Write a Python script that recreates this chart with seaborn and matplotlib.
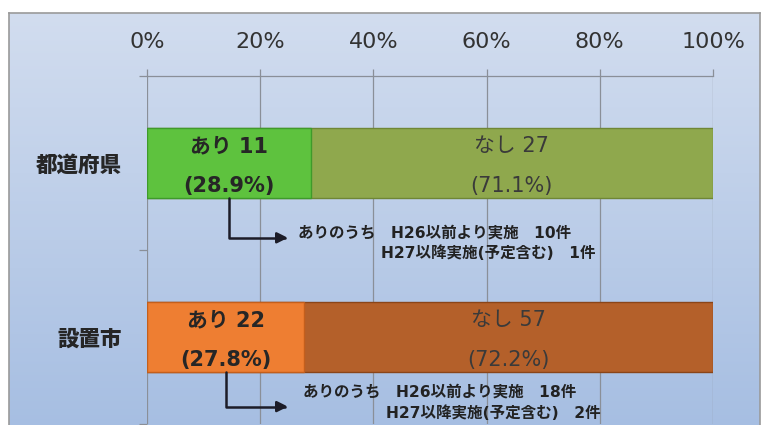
import numpy as np
import pandas as pd
import matplotlib
matplotlib.use('Agg')
import matplotlib.pyplot as plt
import seaborn as sns
from matplotlib.colors import LinearSegmentedColormap

categories = ['都道府県', '設置市']
ari_counts = [11, 22]
nashi_counts = [27, 57]
ari_pct = [28.9, 27.8]
nashi_pct = [71.1, 72.2]
detail_before_h26 = [10, 18]
detail_after_h27 = [1, 2]
x_ticks = [0, 20, 40, 60, 80, 100]
x_tick_labels = ['0%', '20%', '40%', '60%', '80%', '100%']

ari_colors = ['#5ec23e', '#ee7e32']
nashi_colors = ['#8fa84d', '#b4602a']
ari_edges = ['#3f9a2a', '#c45f1c']
nashi_edges = ['#6f8636', '#8a4519']

sns.set_theme(style='white')
plt.rcParams['font.family'] = ['DejaVu Sans', 'Noto Sans CJK JP']

W, H = 766, 425
fig = plt.figure(figsize=(W / 100, H / 100), dpi=100)
fig.patch.set_facecolor('white')

# panel background with vertical gradient
bg = fig.add_axes([9 / W, -0.01, 751 / W, 412 / H + 0.01])
grad = np.linspace(0, 1, 256).reshape(-1, 1)
cmap = LinearSegmentedColormap.from_list('bg', ['#d2ddef', '#a6bee2'])
bg.imshow(grad, aspect='auto', cmap=cmap, extent=[0, 1, 0, 1], origin='upper')
bg.set_xticks([])
bg.set_yticks([])
for s in bg.spines.values():
    s.set_color('#9a9a9a')
    s.set_linewidth(1.2)

ax = fig.add_axes([147 / W, 1 / H, 566 / W, 348 / H])
ax.patch.set_alpha(0)

df = pd.DataFrame({
    'cat': categories,
    'total': [a + b for a, b in zip(ari_pct, nashi_pct)],
    'ari': ari_pct,
})

sns.barplot(data=df, y='cat', x='total', hue='cat', palette=nashi_colors,
            width=0.4, orient='h', legend=False, ax=ax, saturation=1,
            linewidth=1.0)
sns.barplot(data=df, y='cat', x='ari', hue='cat', palette=ari_colors,
            width=0.4, orient='h', legend=False, ax=ax, saturation=1,
            linewidth=1.0)
edges = nashi_edges + ari_edges
for p, ec in zip(ax.patches, edges):
    p.set_edgecolor(ec)
    p.set_zorder(3)

ax.set_xlim(0, 100)
ax.set_ylim(1.5, -0.5)
ax.set_xlabel('')
ax.set_ylabel('')

ax.xaxis.tick_top()
ax.set_xticks(x_ticks, x_tick_labels)
ax.tick_params(axis='x', top=True, bottom=False, length=5, width=0.9,
               color='#8a8f98', pad=12, labelsize=16, labelcolor='#333333')
ax.set_yticks([0, 1], categories)
ax.set_yticks([-0.5, 0.5, 1.5], minor=True)
ax.tick_params(axis='y', which='major', length=0, pad=18)
ax.tick_params(axis='y', which='minor', left=True, length=6, width=0.9,
               color='#8a8f98')
for lab in ax.get_yticklabels():
    lab.set_fontfamily('Noto Sans CJK JP')
    lab.set_fontweight('heavy')
    lab.set_fontsize(15.5)
    lab.set_color('#262626')

for side in ['left', 'right', 'bottom']:
    ax.spines[side].set_visible(False)
ax.spines['top'].set_color('#8a8f98')
ax.spines['top'].set_linewidth(0.9)
ax.grid(axis='x', color='#8a8f98', linewidth=0.9)
ax.grid(axis='y', visible=False)
ax.set_axisbelow(True)

bar_font = ['DejaVu Sans', 'Noto Sans CJK JP']
for i in range(len(categories)):
    xa = ari_pct[i] / 2
    xn = ari_pct[i] + nashi_pct[i] / 2
    ax.text(xa, i - 0.095, f'あり {ari_counts[i]}', ha='center', va='center',
            fontsize=15, fontweight='bold', color='#262626', family=bar_font, zorder=5)
    ax.text(xa, i + 0.13, f'({ari_pct[i]:.1f}%)', ha='center', va='center',
            fontsize=15, fontweight='bold', color='#262626', family=bar_font, zorder=5)
    ax.text(xn, i - 0.095, f'なし {nashi_counts[i]}', ha='center', va='center',
            fontsize=15, color='#3a3a3a', family=bar_font, zorder=5)
    ax.text(xn, i + 0.13, f'({nashi_pct[i]:.1f}%)', ha='center', va='center',
            fontsize=15, color='#3a3a3a', family=bar_font, zorder=5)

arrow_dy = [0.43, 0.40]
line1_dy = [0.40, 0.315]
line2_dy = [0.52, 0.436]
line1_x = [26.7, 27.6]
line2_x = [41.3, 42.3]
note_font = ['DejaVu Sans', 'Noto Sans CJK JP']
for i in range(len(categories)):
    x0 = ari_pct[i] / 2
    ax.annotate('', xy=(24.9, i + arrow_dy[i]), xytext=(x0, i + 0.2),
                arrowprops=dict(arrowstyle='-|>', color='#1c1c28', lw=1.8,
                                mutation_scale=16, shrinkA=0, shrinkB=0,
                                connectionstyle='angle,angleA=90,angleB=0,rad=0'),
                zorder=6, annotation_clip=False)
    ax.text(line1_x[i], i + line1_dy[i],
            f'ありのうち\u3000H26以前より実施\u3000{detail_before_h26[i]}件',
            ha='left', va='center', fontsize=11.2, fontweight='bold',
            color='#222222', family=note_font, zorder=6)
    ax.text(line2_x[i], i + line2_dy[i],
            f'H27以降実施(予定含む)\u3000{detail_after_h27[i]}件',
            ha='left', va='center', fontsize=11.2, fontweight='bold',
            color='#222222', family=note_font, zorder=6)

fig.savefig('out.png', dpi=100)
